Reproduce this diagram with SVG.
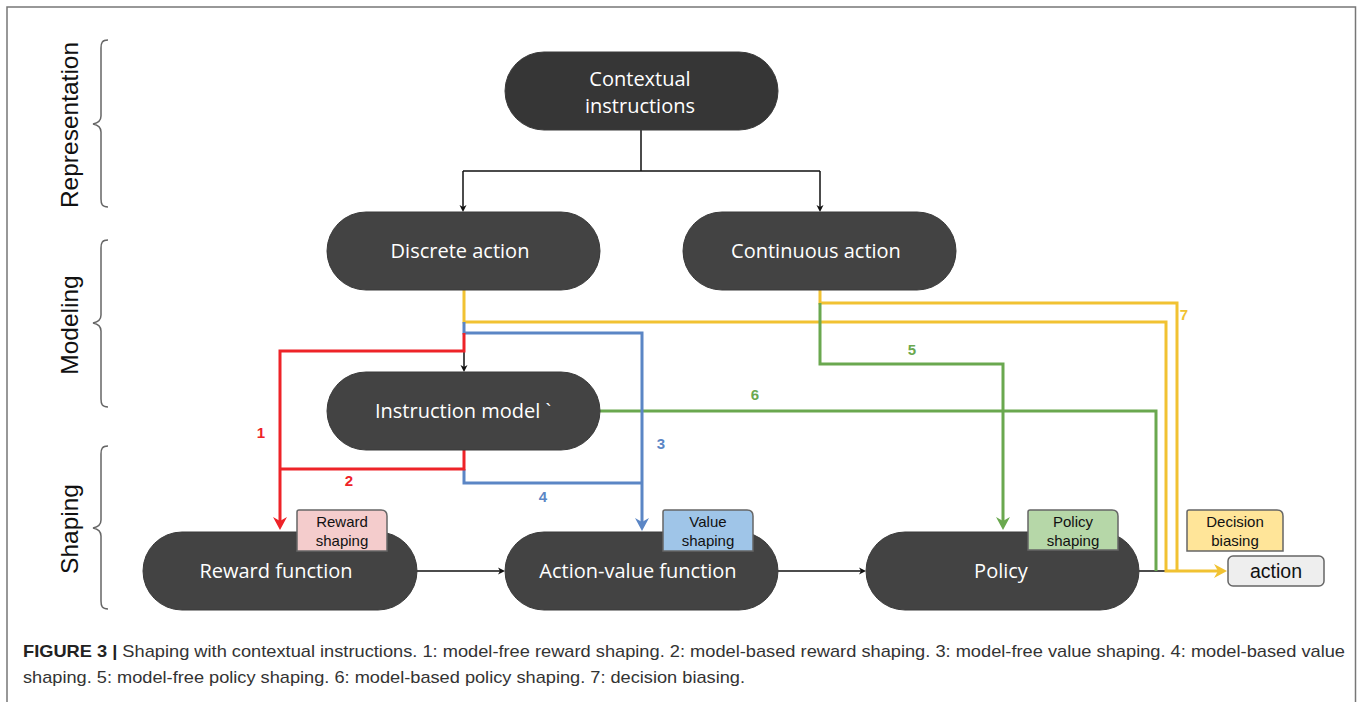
<svg xmlns="http://www.w3.org/2000/svg" width="1360" height="702" viewBox="0 0 1360 702">
<defs>
<style>
.node{fill:#434343;stroke:#3a3a3a;stroke-width:1}
.ntext{font-family:"Open Sans","DejaVu Sans",sans-serif;font-size:20px;fill:#ffffff;text-anchor:middle}
.tag{stroke:#666666;stroke-width:1.5}
.ttext{font-family:"Liberation Sans",Arial,sans-serif;font-size:15px;fill:#111111;text-anchor:middle}
.blk{fill:none;stroke:#111111;stroke-width:1.5}
.c{fill:none;stroke-width:3}
.red{stroke:#ee2328}
.blue{stroke:#5b86c5}
.green{stroke:#6aa84f}
.yellow{stroke:#f1c232}
.num{font-family:"Liberation Sans",Arial,sans-serif;font-size:15px;font-weight:bold;text-anchor:middle}
.brace{fill:none;stroke:#666666;stroke-width:1.5}
.side{font-family:"Liberation Sans",Arial,sans-serif;font-size:24.5px;fill:#111111;text-anchor:middle}
.cap{font-family:"Liberation Sans",Arial,sans-serif;font-size:17px;fill:#333333}
</style>
<marker id="aBlk" markerUnits="userSpaceOnUse" viewBox="0 -4 8 8" markerWidth="8" markerHeight="8" refX="2" refY="0" orient="auto"><path d="M7,0 L0,-3.5 L2,0 L0,3.5 Z" fill="#111111"/></marker>
<marker id="aRed" markerUnits="userSpaceOnUse" viewBox="0 -8 14 16" markerWidth="14" markerHeight="16" refX="4" refY="0" orient="auto"><path d="M13,0 L0,-7 L4,0 L0,7 Z" fill="#ee2328"/></marker>
<marker id="aBlue" markerUnits="userSpaceOnUse" viewBox="0 -8 14 16" markerWidth="14" markerHeight="16" refX="4" refY="0" orient="auto"><path d="M13,0 L0,-7 L4,0 L0,7 Z" fill="#5b86c5"/></marker>
<marker id="aGreen" markerUnits="userSpaceOnUse" viewBox="0 -8 14 16" markerWidth="14" markerHeight="16" refX="4" refY="0" orient="auto"><path d="M13,0 L0,-7 L4,0 L0,7 Z" fill="#6aa84f"/></marker>
<marker id="aYellow" markerUnits="userSpaceOnUse" viewBox="0 -8 14 16" markerWidth="14" markerHeight="16" refX="4" refY="0" orient="auto"><path d="M13,0 L0,-7 L4,0 L0,7 Z" fill="#f1c232"/></marker>
</defs>
<rect x="0" y="0" width="1360" height="702" fill="#ffffff"/>
<path d="M7,710 V7 H1355.5 V710" fill="none" stroke="#777777" stroke-width="1.5"/>

<g id="stages">
<path class="brace" d="M108,40 C102,40 101,43 101,48 L101,116 C101,121 98,123 93,124 C98,125 101,127 101,132 L101,199 C101,204 102,207 108,207"/>
<path class="brace" d="M108,240 C102,240 101,243 101,248 L101,315 C101,320 98,322 93,323 C98,324 101,326 101,331 L101,399 C101,404 102,407 108,407"/>
<path class="brace" d="M108,446 C102,446 101,449 101,454 L101,520 C101,525 98,527 93,528 C98,529 101,531 101,536 L101,601 C101,606 102,609 108,609"/>
<text class="side" transform="translate(78,125) rotate(-90)">Representation</text>
<text class="side" transform="translate(78,325) rotate(-90)">Modeling</text>
<text class="side" transform="translate(78,529) rotate(-90)">Shaping</text>
</g>

<g id="connectors">
<path class="blk" d="M641,130 V171 M463,171 H820"/>
<path class="blk" d="M463,171 V207" marker-end="url(#aBlk)"/>
<path class="blk" d="M820,171 V207" marker-end="url(#aBlk)"/>
<path class="blk" d="M464,351 V367" marker-end="url(#aBlk)"/>
<path class="blk" d="M417,571 H500" marker-end="url(#aBlk)"/>
<path class="blk" d="M778,571 H861" marker-end="url(#aBlk)"/>
<path class="blk" d="M1139,571 H1167"/>
<path class="c yellow" d="M820,290 V303 H1177 V571"/>
<path class="c yellow" d="M464,290 V322 H1166 V571 H1218" marker-end="url(#aYellow)"/>
<path class="c green" d="M820,303 V364 H1003 V521" marker-end="url(#aGreen)"/>
<path class="c green" d="M600,411 H1156 V571"/>
<path class="c blue" d="M464,322 V333 H642 V522" marker-end="url(#aBlue)"/>
<path class="c blue" d="M464,469 V483 H642"/>
<path class="c red" d="M464,333 V351 H280 V521" marker-end="url(#aRed)"/>
<path class="c red" d="M464,450 V469 H280"/>
<text class="num" x="261" y="438" fill="#ee2328">1</text>
<text class="num" x="349" y="486" fill="#ee2328">2</text>
<text class="num" x="661" y="449" fill="#5b86c5">3</text>
<text class="num" x="543" y="502" fill="#5b86c5">4</text>
<text class="num" x="912" y="355" fill="#6aa84f">5</text>
<text class="num" x="755" y="400" fill="#6aa84f">6</text>
<text class="num" x="1184" y="320" fill="#f1c232">7</text>
</g>

<g id="contextual-instructions">
<rect class="node" x="505" y="52" width="273" height="78" rx="39" style="fill:#363636"/>
<text class="ntext" x="640" y="86">Contextual</text>
<text class="ntext" x="640" y="113">instructions</text>
</g>
<g id="discrete-action">
<rect class="node" x="327" y="212" width="273" height="78" rx="39"/>
<text class="ntext" x="460" y="258">Discrete action</text>
</g>
<g id="continuous-action">
<rect class="node" x="683" y="212" width="273" height="78" rx="39"/>
<text class="ntext" x="816" y="258">Continuous action</text>
</g>
<g id="instruction-model">
<rect class="node" x="327" y="372" width="273" height="78" rx="39"/>
<text class="ntext" x="463" y="418">Instruction model `</text>
</g>
<g id="reward-function">
<rect class="node" x="143" y="532" width="274" height="78" rx="39"/>
<text class="ntext" x="276" y="578">Reward function</text>
</g>
<g id="action-value-function">
<rect class="node" x="505" y="532" width="273" height="78" rx="39"/>
<text class="ntext" x="638" y="578">Action-value function</text>
</g>
<g id="policy">
<rect class="node" x="866" y="532" width="273" height="78" rx="39"/>
<text class="ntext" x="1001" y="578">Policy</text>
</g>
<g id="action">
<rect x="1228" y="556" width="96" height="30" rx="5" fill="#eeeeee" stroke="#666666" stroke-width="1.5"/>
<text x="1276" y="578" font-family="'Liberation Sans',Arial,sans-serif" font-size="19.5" fill="#111111" text-anchor="middle">action</text>
</g>

<g id="reward-shaping">
<path class="tag" fill="#f4cccc" d="M297,551 V512 Q297,510 299,510 H381 Q387,510 387,516 V551 Z"/>
<text class="ttext" x="342" y="527">Reward</text>
<text class="ttext" x="342" y="546">shaping</text>
</g>
<g id="value-shaping">
<path class="tag" fill="#9fc5e8" d="M663,551 V512 Q663,510 665,510 H747 Q753,510 753,516 V551 Z"/>
<text class="ttext" x="708" y="527">Value</text>
<text class="ttext" x="708" y="546">shaping</text>
</g>
<g id="policy-shaping">
<path class="tag" fill="#b6d7a8" d="M1028,550 V512 Q1028,510 1030,510 H1112 Q1118,510 1118,516 V550 Z"/>
<text class="ttext" x="1073" y="527">Policy</text>
<text class="ttext" x="1073" y="546">shaping</text>
</g>
<g id="decision-biasing">
<path class="tag" fill="#ffe599" d="M1187,551 V512 Q1187,510 1189,510 H1277 Q1283,510 1283,516 V551 Z"/>
<text class="ttext" x="1235" y="527">Decision</text>
<text class="ttext" x="1235" y="546">biasing</text>
</g>

<g id="caption">
<text class="cap" x="23" y="657" textLength="1322" lengthAdjust="spacingAndGlyphs"><tspan font-weight="bold" fill="#222222">FIGURE 3 |</tspan> Shaping with contextual instructions. 1: model-free reward shaping. 2: model-based reward shaping. 3: model-free value shaping. 4: model-based value</text>
<text class="cap" x="23" y="683" textLength="722" lengthAdjust="spacingAndGlyphs">shaping. 5: model-free policy shaping. 6: model-based policy shaping. 7: decision biasing.</text>
</g>
</svg>
